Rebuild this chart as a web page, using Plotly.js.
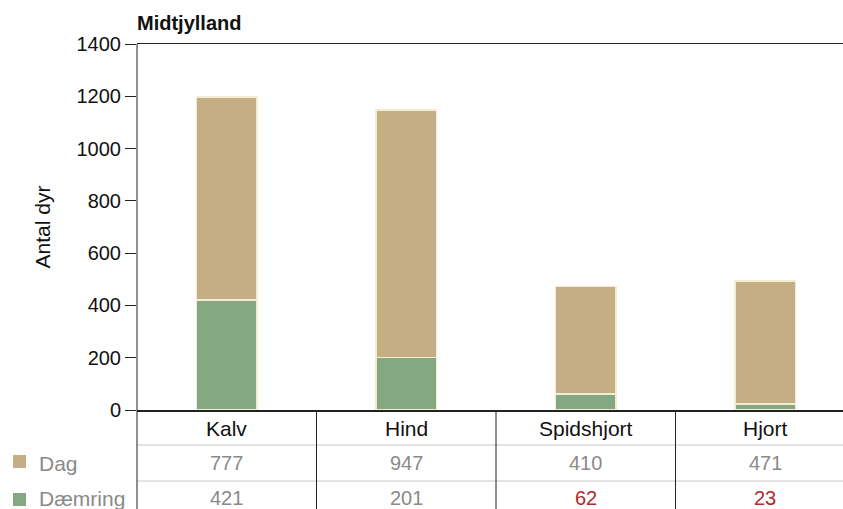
<!DOCTYPE html>
<html><head><meta charset="utf-8">
<script src="https://cdn.plot.ly/plotly-3.0.1.min.js"></script>
<style>html,body{margin:0;padding:0;background:#fff}#chart{width:843px;height:509px}</style>
</head><body><div id="chart"></div>
<script>
const categories = ["Kalv", "Hind", "Spidshjort", "Hjort"];
const seriesNames = ["Dag", "Dæmring"];
const dagValues = [777, 947, 410, 471];
const daemringValues = [421, 201, 62, 23];
const yTicks = [0, 200, 400, 600, 800, 1000, 1200, 1400];
const daemringValueColors = ["#8a8a8a", "#8a8a8a", "#b22a2a", "#b22a2a"];

const W = 843, H = 509, L = 137, T = 44, B = 99;
const plotW = W - L, plotH = H - T - B;
function paperY(pixY){ return ((H - B) - pixY) / plotH; }
function paperX(pixX){ return (pixX - L) / plotW; }

const colDag = "#c5ae84", colDaem = "#83a882";
const edge = {color: "#f1ecd2", width: 1.5};

const traces = [
  {type: "bar", name: seriesNames[1], x: categories, y: daemringValues, width: 0.335,
   marker: {color: colDaem, line: edge}, hoverinfo: "skip"},
  {type: "bar", name: seriesNames[0], x: categories, y: dagValues, width: 0.335,
   marker: {color: colDag, line: edge}, hoverinfo: "skip"}
];

const font = "Liberation Sans, Arial, sans-serif";
const annotations = [];
const shapes = [];
const rowHeader = paperY(428), rowDag = paperY(463), rowDaem = paperY(498);
categories.forEach((c, i) => {
  annotations.push({x: i, y: rowHeader, xref: "x", yref: "paper", text: c, showarrow: false,
    font: {family: font, size: 21, color: "#111"}, xanchor: "center", yanchor: "middle"});
  annotations.push({x: i, y: rowDag, xref: "x", yref: "paper", text: String(dagValues[i]), showarrow: false,
    font: {family: font, size: 20, color: "#8a8a8a"}, xanchor: "center", yanchor: "middle"});
  annotations.push({x: i, y: rowDaem, xref: "x", yref: "paper", text: String(daemringValues[i]), showarrow: false,
    font: {family: font, size: 20, color: daemringValueColors[i]}, xanchor: "center", yanchor: "middle"});
});
// legend labels in table
annotations.push({x: paperX(37), y: rowDag, xref: "paper", yref: "paper", text: seriesNames[0], showarrow: false,
  font: {family: font, size: 21, color: "#8a8a8a"}, xanchor: "left", yanchor: "middle"});
annotations.push({x: paperX(37), y: rowDaem, xref: "paper", yref: "paper", text: seriesNames[1], showarrow: false,
  font: {family: font, size: 21, color: "#8a8a8a"}, xanchor: "left", yanchor: "middle"});
shapes.push({type: "rect", xref: "paper", yref: "paper", x0: paperX(13), x1: paperX(26), y0: paperY(468), y1: paperY(455),
  fillcolor: colDag, line: {width: 0}});
shapes.push({type: "rect", xref: "paper", yref: "paper", x0: paperX(13), x1: paperX(26), y0: paperY(506), y1: paperY(493),
  fillcolor: colDaem, line: {width: 0}});
// table grid lines
[445, 481].forEach(p => shapes.push({type: "line", xref: "paper", yref: "paper", x0: 0, x1: 1, y0: paperY(p), y1: paperY(p),
  line: {color: "#c8c8c8", width: 1}}));
[0.5, 1.5, 2.5].forEach(v => shapes.push({type: "line", xref: "x", yref: "paper", x0: v, x1: v, y0: 0, y1: paperY(512),
  line: {color: "#222", width: 1}}));
shapes.push({type: "line", xref: "paper", yref: "paper", x0: 0, x1: 0, y0: 1, y1: paperY(512), line: {color: "#222", width: 1}});

const layout = {
  width: W, height: H,
  margin: {l: L, r: 0, t: T, b: B, pad: 0},
  paper_bgcolor: "#fff", plot_bgcolor: "#fff",
  barmode: "stack", showlegend: false,
  title: {text: "<b>Midtjylland</b>", x: paperX(137), xref: "paper", xanchor: "left", y: 1 - 23/H, yanchor: "middle",
    font: {family: font, size: 20, color: "#111"}},
  xaxis: {type: "category", range: [-0.5, 3.433], showticklabels: false, ticks: "",
    showline: true, linecolor: "#222", linewidth: 1.5, mirror: true, showgrid: false, zeroline: false, fixedrange: true},
  yaxis: {range: [0, 1400], tickvals: yTicks, ticktext: yTicks.map(String), ticks: "outside", ticklen: 11, tickcolor: "#222",
    showline: false, showgrid: false, zeroline: false,
    tickfont: {family: font, size: 20, color: "#111"},
    title: {text: "Antal dyr", standoff: 20, font: {family: font, size: 21, color: "#111"}}},
  annotations: annotations, shapes: shapes
};
Plotly.newPlot("chart", traces, layout, {staticPlot: true, displayModeBar: false});
</script></body></html>
